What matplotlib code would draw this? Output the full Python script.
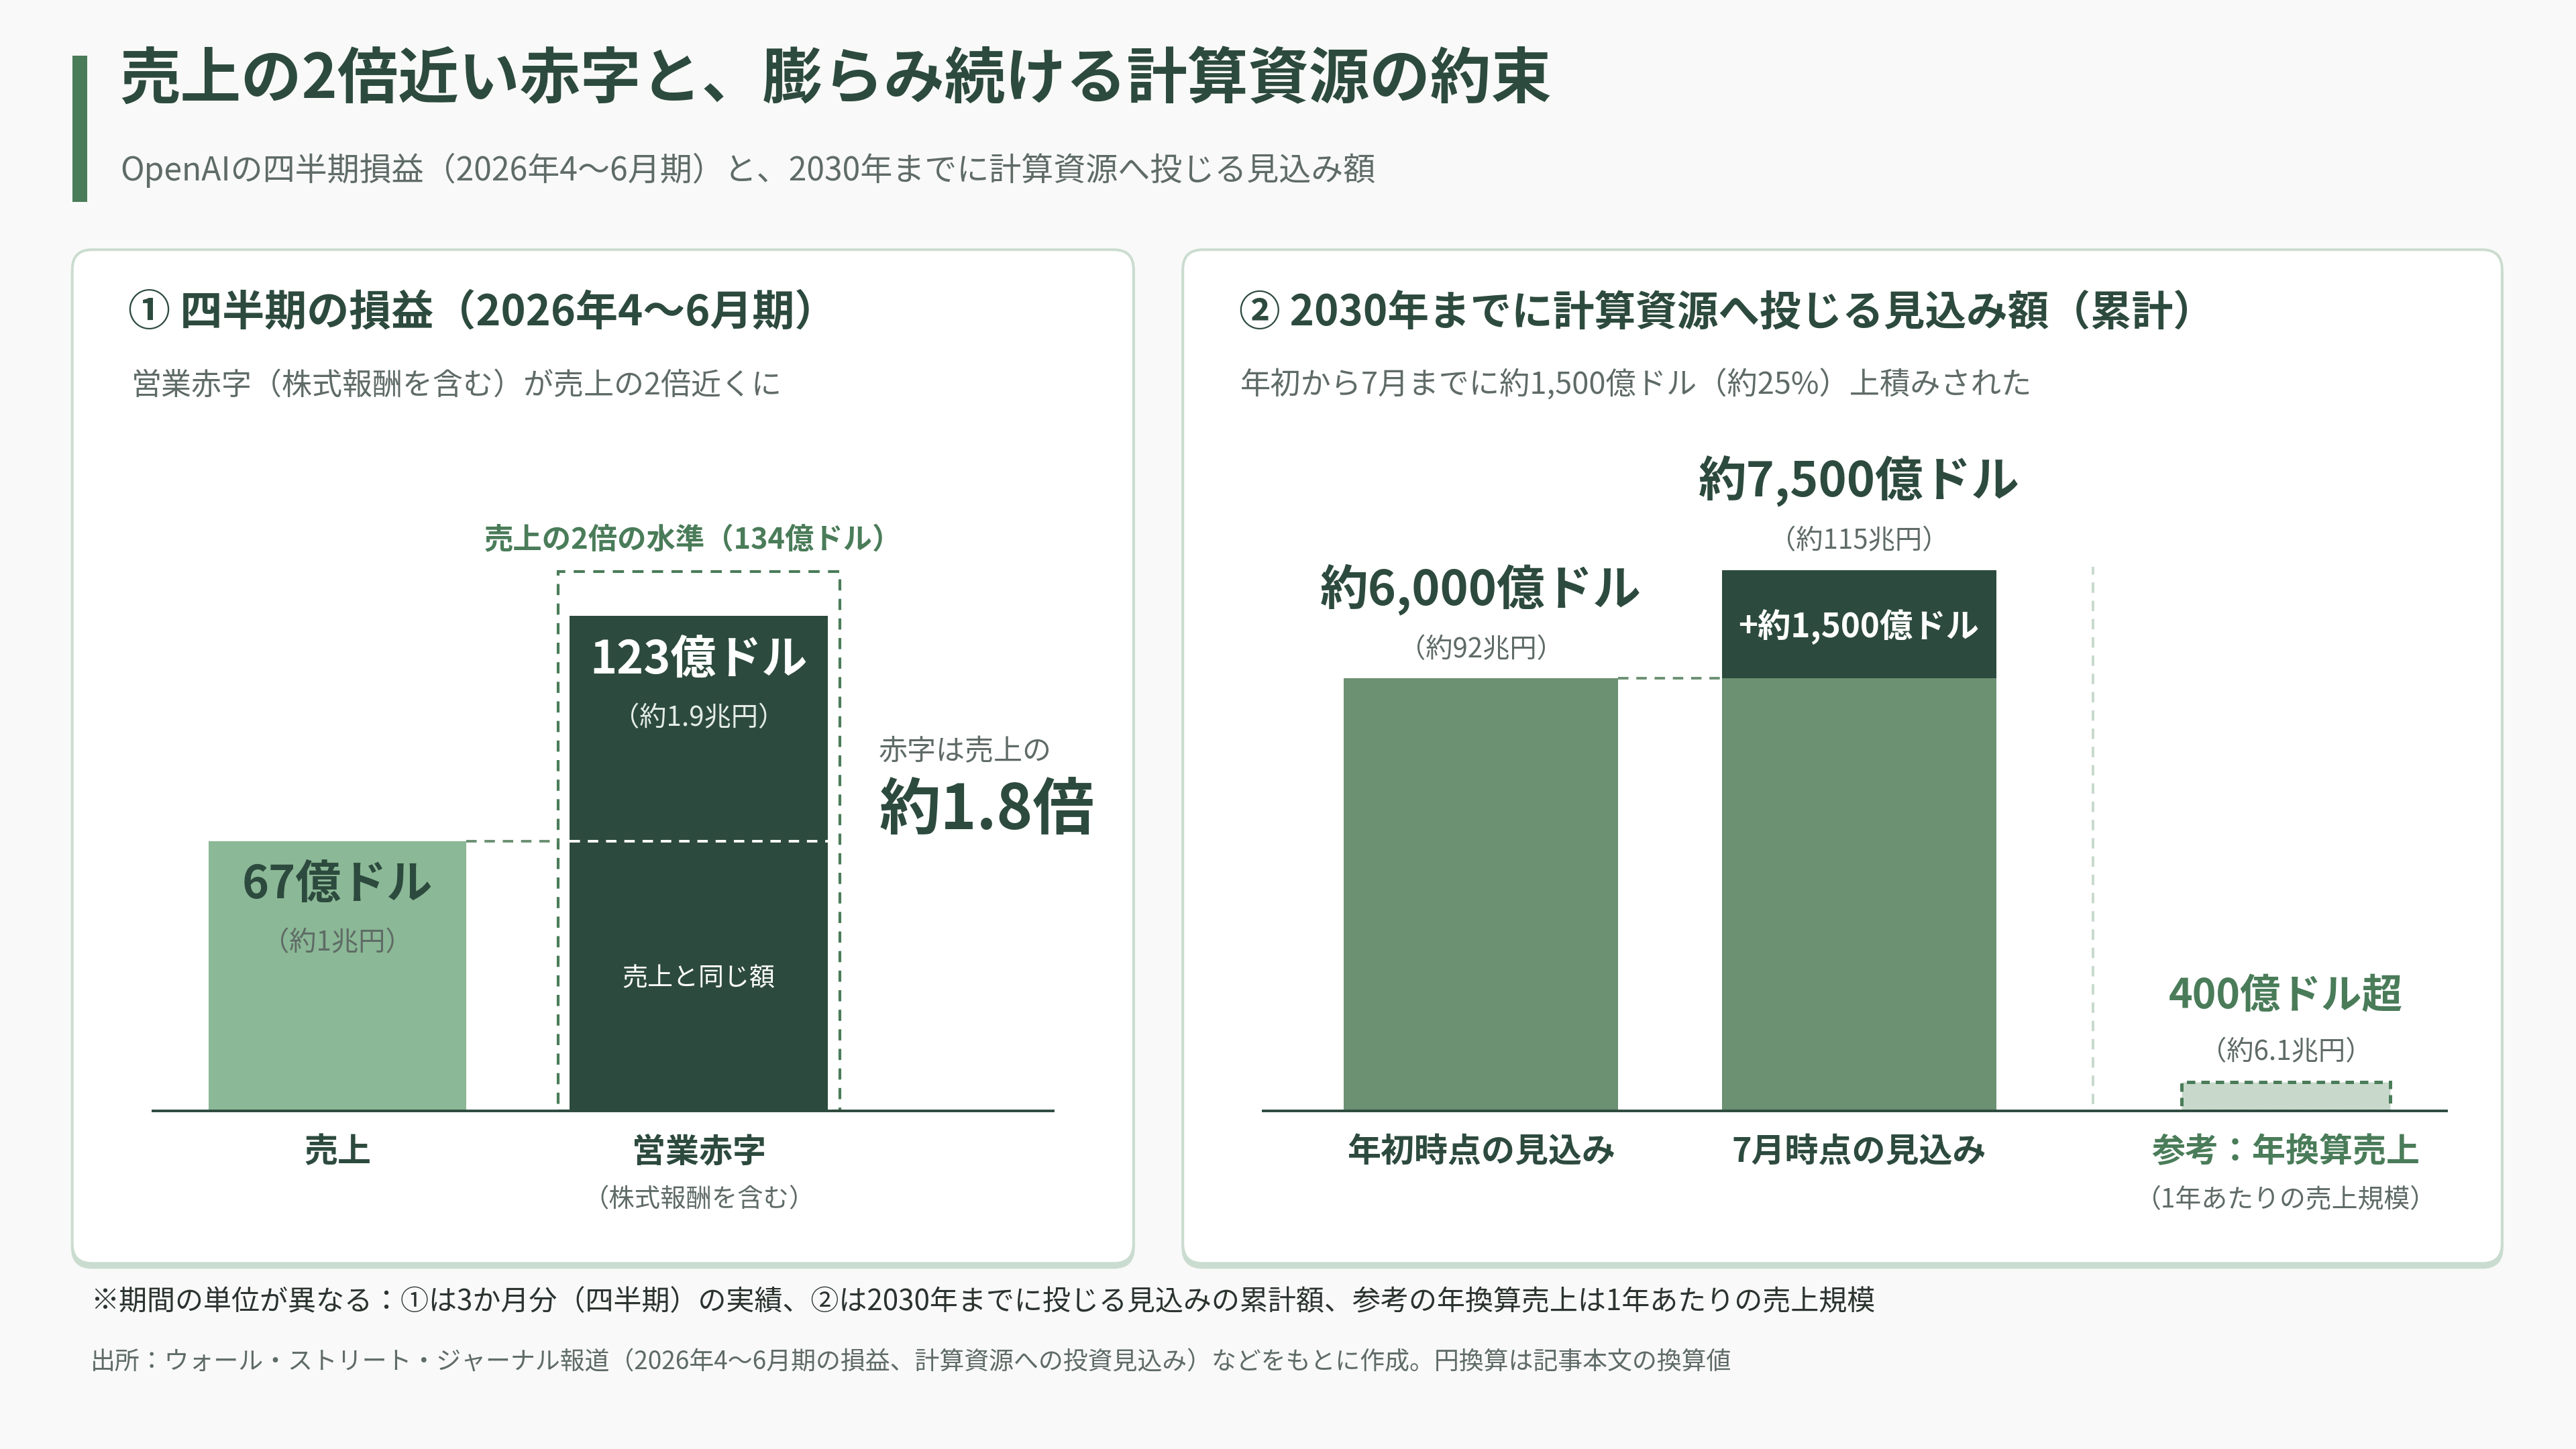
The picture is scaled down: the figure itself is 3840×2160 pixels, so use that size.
import matplotlib

matplotlib.use("Agg")
import matplotlib.pyplot as plt
from matplotlib.patches import FancyBboxPatch, Rectangle

plt.rcParams["font.family"] = ["Noto Sans CJK JP", "DejaVu Sans"]

TITLE = "売上の2倍近い赤字と、膨らみ続ける計算資源の約束"
SUBTITLE = "OpenAIの四半期損益（2026年4〜6月期）と、2030年までに計算資源へ投じる見込み額"

# panel 1: quarterly results, 億ドル
Q_TITLE = "① 四半期の損益（2026年4〜6月期）"
Q_NOTE = "営業赤字（株式報酬を含む）が売上の2倍近くに"
Q_LABELS = ["売上", "営業赤字"]
Q_SUBLABELS = ["", "（株式報酬を含む）"]
Q_VALUES = [67, 123]
Q_VALUE_TEXT = ["67億ドル", "123億ドル"]
Q_YEN_TEXT = ["（約1兆円）", "（約1.9兆円）"]
DOUBLE_REVENUE = 134
DOUBLE_TEXT = "売上の2倍の水準（134億ドル）"
SAME_TEXT = "売上と同じ額"
RATIO_LEAD = "赤字は売上の"
RATIO_TEXT = "約1.8倍"

# panel 2: compute commitments through 2030, 億ドル
C_TITLE = "② 2030年までに計算資源へ投じる見込み額（累計）"
C_NOTE = "年初から7月までに約1,500億ドル（約25%）上積みされた"
C_LABELS = ["年初時点の見込み", "7月時点の見込み", "参考：年換算売上"]
C_SUBLABELS = ["", "", "（1年あたりの売上規模）"]
C_BASE = [6000, 6000, 400]
C_ADDED = [0, 1500, 0]
C_VALUE_TEXT = ["約6,000億ドル", "約7,500億ドル", "400億ドル超"]
C_YEN_TEXT = ["（約92兆円）", "（約115兆円）", "（約6.1兆円）"]
ADDED_TEXT = "+約1,500億ドル"

FOOTNOTE = "※期間の単位が異なる：①は3か月分（四半期）の実績、②は2030年までに投じる見込みの累計額、参考の年換算売上は1年あたりの売上規模"
SOURCE = "出所：ウォール・ストリート・ジャーナル報道（2026年4〜6月期の損益、計算資源への投資見込み）などをもとに作成。円換算は記事本文の換算値"

DARK = "#2d4a3e"
LIGHT = "#8bb896"
MID = "#6b9072"
ACCENT = "#4a7c59"
PALE = "#c8d9cb"
BORDER = "#cadccf"
GRAY = "#5f6b66"
BG = "#f8f9f8"

W, H = 1568, 882


def frect(left, top, right, bottom):
    return [left / W, 1 - bottom / H, (right - left) / W, (bottom - top) / H]


fig = plt.figure(figsize=(19.2, 10.8), dpi=200)
fig.patch.set_facecolor(BG)

bg = fig.add_axes([0, 0, 1, 1], zorder=0)
bg.set_xlim(0, W)
bg.set_ylim(H, 0)
bg.axis("off")

# header
bg.add_patch(Rectangle((44, 34), 9, 89, color=ACCENT, lw=0))
bg.text(73, 49, TITLE, fontsize=32.6, fontweight="bold", color=DARK, va="center")
bg.text(73, 103.5, SUBTITLE, fontsize=17.3, color=GRAY, va="center")

# panel cards
for left, right in [(44, 690), (720, 1523)]:
    bg.add_patch(FancyBboxPatch((left, 154.5), right - left, 617, boxstyle="round,pad=0,rounding_size=12",
                                fc=BORDER, ec=BORDER, lw=1.4, zorder=1))
    bg.add_patch(FancyBboxPatch((left, 152), right - left, 617, boxstyle="round,pad=0,rounding_size=12",
                                fc="white", ec=BORDER, lw=1.4, zorder=2))

bg.text(78, 190.5, Q_TITLE, fontsize=22.7, fontweight="bold", color=DARK, va="center", zorder=3)
bg.text(80, 234.5, Q_NOTE, fontsize=16.2, color=GRAY, va="center", zorder=3)
bg.text(754, 190.5, C_TITLE, fontsize=22.2, fontweight="bold", color=DARK, va="center", zorder=3)
bg.text(755, 234.5, C_NOTE, fontsize=16.3, color=GRAY, va="center", zorder=3)

bg.text(55, 792.5, FOOTNOTE, fontsize=15.15, color="#2b332f", va="center")
bg.text(55, 829.5, SOURCE, fontsize=13.3, color=GRAY, va="center")

# ---- panel 1 ----
ax1 = fig.add_axes(frect(93, 676 - 160 * 2.448, 641, 676), zorder=5)
ax1.set_xlim(-0.511, 1.98)
ax1.set_ylim(0, 160)
ax1.axis("off")

BAR_W = 0.714
BOX_W = 0.78
q_x = list(range(len(Q_VALUES)))
ax1.bar(q_x, Q_VALUES, width=BAR_W, color=[LIGHT, DARK], zorder=3)
ax1.add_patch(Rectangle((q_x[1] - BOX_W / 2, 0), BOX_W, DOUBLE_REVENUE, fill=False, ec=ACCENT,
                        lw=1.5, ls=(0, (4, 3)), zorder=2))
ax1.plot([q_x[0] + BAR_W / 2, q_x[1] - BOX_W / 2], [Q_VALUES[0]] * 2, color=MID, lw=1.4,
         ls=(0, (4, 3)), zorder=2)
ax1.plot([q_x[1] - BAR_W / 2, q_x[1] + BAR_W / 2], [Q_VALUES[0]] * 2, color="white", lw=1.4,
         ls=(0, (4, 3)), zorder=4)
ax1.axhline(0, color=DARK, lw=1.4, zorder=6, clip_on=False)

ax1.text(q_x[0], Q_VALUES[0] - 11, Q_VALUE_TEXT[0], ha="center", va="center", fontsize=24.5,
         fontweight="bold", color=DARK, zorder=5)
ax1.text(q_x[0], Q_VALUES[0] - 25.3, Q_YEN_TEXT[0], ha="center", va="center", fontsize=14.5,
         color=GRAY, zorder=5)
ax1.text(q_x[1], Q_VALUES[1] - 11.1, Q_VALUE_TEXT[1], ha="center", va="center", fontsize=24.5,
         fontweight="bold", color="white", zorder=5)
ax1.text(q_x[1], Q_VALUES[1] - 25.4, Q_YEN_TEXT[1], ha="center", va="center", fontsize=14.5,
         color="#e3ebe5", zorder=5)
ax1.text(q_x[1], Q_VALUES[0] / 2 - 0.6, SAME_TEXT, ha="center", va="center", fontsize=13.7,
         color="white", zorder=5)
ax1.text(q_x[1] - 0.016, DOUBLE_REVENUE + 7.9, DOUBLE_TEXT, ha="center", va="center", fontsize=15.6,
         fontweight="bold", color=ACCENT)
ax1.text(1.498, 89.2, RATIO_LEAD, ha="left", va="center", fontsize=15.5, color=GRAY)
ax1.text(1.498, 74.4, RATIO_TEXT, ha="left", va="center", fontsize=33, fontweight="bold", color=DARK)

for x, label, sub in zip(q_x, Q_LABELS, Q_SUBLABELS):
    ax1.annotate(label, xy=(x, 0), xytext=(0, -22.5), textcoords="offset points", ha="center",
                 va="center", fontsize=18, fontweight="bold", color=DARK)
    if sub:
        ax1.annotate(sub, xy=(x, 0), xytext=(0, -48), textcoords="offset points", ha="center",
                     va="center", fontsize=13.8, color=GRAY)

# ---- panel 2 ----
ax2 = fig.add_axes(frect(769, 676 - 9000 * 0.04383, 1489, 676), zorder=5)
ax2.set_xlim(-0.576, 2.554)
ax2.set_ylim(0, 9000)
ax2.axis("off")

c_x = [0, 1, 2.13]
c_w = [0.726, 0.726, 0.552]
ax2.bar(c_x[:2], C_BASE[:2], width=c_w[:2], color=MID, zorder=3)
ax2.bar(c_x[1], C_ADDED[1], bottom=C_BASE[1], width=c_w[1], color=DARK, zorder=3)
ax2.bar(c_x[2], C_BASE[2], width=c_w[2], color=PALE, edgecolor=ACCENT, lw=1.8,
        ls=(0, (2.5, 1.8)), zorder=3)
ax2.plot([c_x[0] + c_w[0] / 2, c_x[1] - c_w[1] / 2], [C_BASE[0]] * 2, color=MID, lw=1.4,
         ls=(0, (4, 3)), zorder=2)
ax2.plot([1.62, 1.62], [90, 7550], color=PALE, lw=1.4, ls=(0, (4, 3)), zorder=2)
ax2.axhline(0, color=DARK, lw=1.4, zorder=6, clip_on=False)

tops = [b + a for b, a in zip(C_BASE, C_ADDED)]
ax2.text(c_x[0], tops[0] + 1240, C_VALUE_TEXT[0], ha="center", va="center", fontsize=25.8,
         fontweight="bold", color=DARK)
ax2.text(c_x[0], tops[0] + 398, C_YEN_TEXT[0], ha="center", va="center", fontsize=14.5, color=GRAY)
ax2.text(c_x[1], tops[1] + 1246, C_VALUE_TEXT[1], ha="center", va="center", fontsize=25.8,
         fontweight="bold", color=DARK)
ax2.text(c_x[1], tops[1] + 404, C_YEN_TEXT[1], ha="center", va="center", fontsize=14.5, color=GRAY)
ax2.text(c_x[1], C_BASE[1] + C_ADDED[1] / 2 - 30, ADDED_TEXT, ha="center", va="center", fontsize=17.8,
         fontweight="bold", color="white", zorder=5)
ax2.text(c_x[2], tops[2] + 1182, C_VALUE_TEXT[2], ha="center", va="center", fontsize=21.8,
         fontweight="bold", color=ACCENT)
ax2.text(c_x[2], tops[2] + 408, C_YEN_TEXT[2], ha="center", va="center", fontsize=14.5, color=GRAY)

for i, (x, label, sub) in enumerate(zip(c_x, C_LABELS, C_SUBLABELS)):
    ax2.annotate(label, xy=(x, 0), xytext=(0, -22.5), textcoords="offset points", ha="center",
                 va="center", fontsize=18, fontweight="bold", color=ACCENT if i == 2 else DARK)
    if sub:
        ax2.annotate(sub, xy=(x, 0), xytext=(0, -48), textcoords="offset points", ha="center",
                     va="center", fontsize=14, color=GRAY)

fig.savefig("out.png", dpi=200, facecolor=BG)
